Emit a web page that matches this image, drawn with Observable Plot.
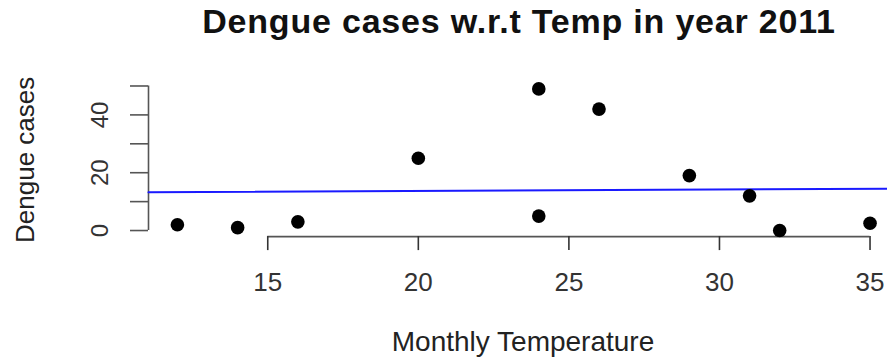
<!DOCTYPE html>
<html>
<head>
<meta charset="utf-8">
<script src="https://cdn.jsdelivr.net/npm/d3@7"></script>
<script src="https://cdn.jsdelivr.net/npm/@observablehq/plot@0.6"></script>
<style>
  html, body { margin: 0; padding: 0; background: #fff; }
  #wrap { width: 887px; height: 358px; position: relative; overflow: hidden; font-family: "Liberation Sans", Arial, Helvetica, sans-serif; }
  #title { position: relative; height: 58px; width: 887px; }
  #title span { position: absolute; left: 519px; top: 4px; transform: translateX(-50%); white-space: nowrap;
    font-weight: bold; font-size: 34px; line-height: 34px; letter-spacing: 0.8px; color: #111; }
  svg { display: block; }
</style>
</head>
<body>
<div id="wrap">
  <div id="title"><span>Dengue cases w.r.t Temp in year 2011</span></div>
  <div id="chart"></div>
</div>
<script>
// Data
const temperature = [12, 14, 16, 20, 24, 24, 26, 29, 31, 32, 35];
const dengueCases = [2, 1, 3, 25, 49, 5, 42, 19, 12, 0, 2.5];

// Fitted line endpoints (at the plot region edges)
const lineTemp = [11.04, 35.58];
const lineCases = [13.2, 14.45];

// Axis ticks
const xTicks = [15, 20, 25, 30, 35];
const yTicks = [0, 10, 20, 30, 40, 50];
const yLabels = [0, 20, 40];

const xTitle = "Monthly Temperature";
const yTitle = "Dengue cases";

const points = temperature.map((t, i) => ({temp: t, cases: dengueCases[i]}));
const fit = lineTemp.map((t, i) => ({temp: t, cases: lineCases[i]}));

const font = "'Liberation Sans', Arial, Helvetica, sans-serif";

const chart = Plot.plot({
  width: 887,
  height: 300,
  marginLeft: 148,
  marginRight: 0,
  marginTop: 24.6,
  marginBottom: 121.9,
  style: { fontFamily: font, background: "white", overflow: "visible" },
  x: { domain: [11.04, 35.58] },
  y: { domain: [-2.1, 51] },
  marks: [
    // x axis line (15..35) at bottom of plot region
    Plot.ruleY([-2.1], { x1: xTicks[0], x2: xTicks[xTicks.length - 1], stroke: "#555", strokeWidth: 1.6 }),
    Plot.axisX({ ticks: xTicks, tickSize: 14, tickPadding: 22, fontSize: 26, label: null,
      tickFormat: d => String(d), color: "#333", strokeWidth: 1.6 }),
    // y axis line (0..50) at left of plot region
    Plot.ruleX([11.04], { y1: yTicks[0], y2: yTicks[yTicks.length - 1], stroke: "#555", strokeWidth: 1.6 }),
    Plot.axisY({ ticks: yTicks, tickSize: 18, tickFormat: () => "", label: null, color: "#555", strokeWidth: 1.6 }),
    Plot.text(yLabels, { y: d => d, text: d => String(d), frameAnchor: "left", dx: -41,
      rotate: -90, textAnchor: "middle", lineAnchor: "bottom", fontSize: 24, fill: "#333" }),
    // axis titles
    Plot.text([xTitle], { frameAnchor: "bottom", dx: 5, dy: 114, lineAnchor: "bottom",
      textAnchor: "middle", fontSize: 28, fill: "#222" }),
    Plot.text([yTitle], { frameAnchor: "left", dx: -115, rotate: -90, lineAnchor: "bottom",
      textAnchor: "middle", fontSize: 26, fill: "#222" }),
    // fitted line
    Plot.line(fit, { x: "temp", y: "cases", stroke: "#1a1aff", strokeWidth: 2 }),
    // points
    Plot.dot(points, { x: "temp", y: "cases", r: 6.8, fill: "#000", stroke: "none" })
  ]
});
document.getElementById("chart").appendChild(chart);
</script>
</body>
</html>
